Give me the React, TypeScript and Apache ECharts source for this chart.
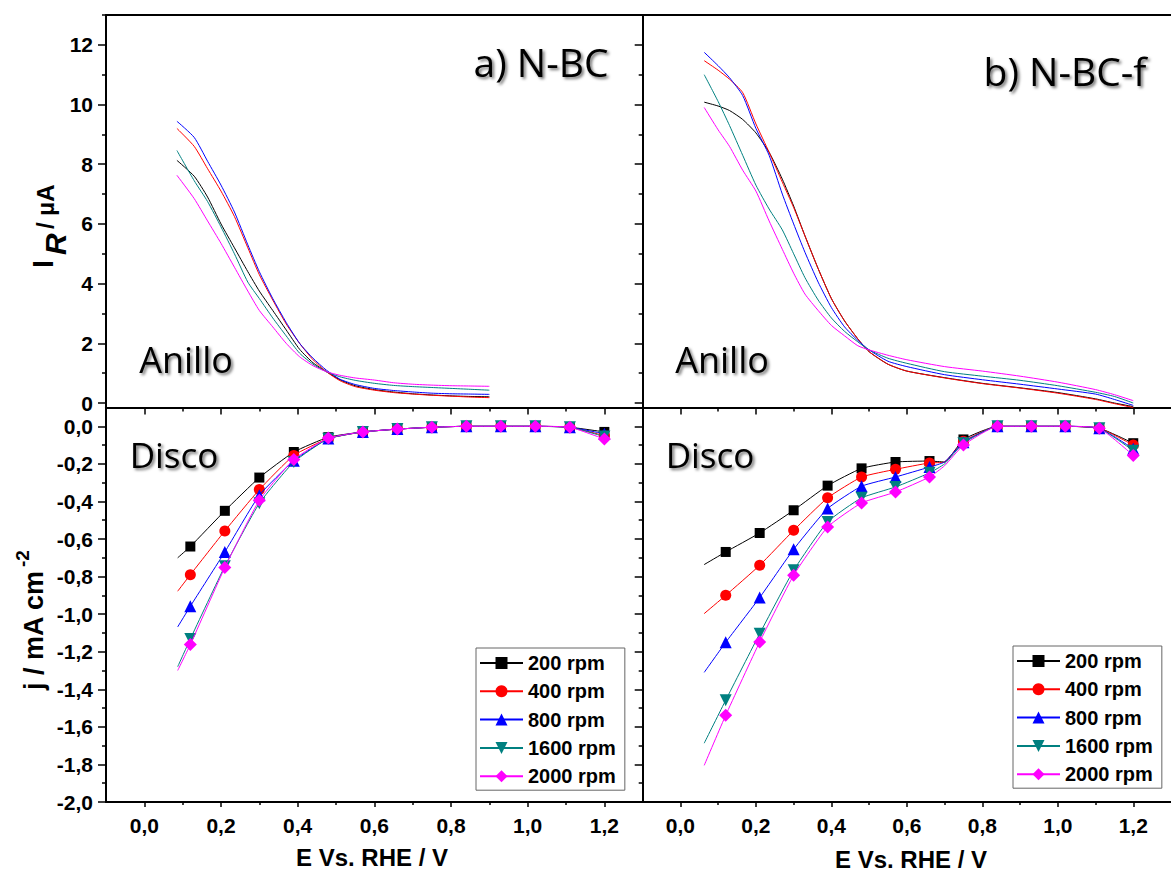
import React, { useEffect, useRef } from 'react';
import * as echarts from 'echarts';

// ---------- series meta ----------
const SERIES_NAMES = ['200 rpm', '400 rpm', '800 rpm', '1600 rpm', '2000 rpm'];
const COLORS = ['#000000', '#ff0000', '#0000ff', '#008080', '#ff00ff'];
const SYMBOLS = ['rect', 'circle', 'triangle', 'triangle', 'diamond'];
const SYMBOL_ROTATE = [0, 0, 0, 180, 0];
const SYMBOL_SIZES = [10, 11, 12, 12, 13];

// ---------- a) N-BC ring current (µA) ----------
const ringAX = [0.085, 0.13, 0.165, 0.2, 0.235, 0.27, 0.3, 0.335, 0.37, 0.405, 0.44, 0.475, 0.51, 0.55, 0.6, 0.65, 0.7, 0.75, 0.8, 0.85, 0.9];
const ringA200 = [8.13, 7.6, 6.9, 6.0, 5.2, 4.4, 3.75, 3.1, 2.45, 1.8, 1.35, 1.05, 0.78, 0.58, 0.45, 0.37, 0.31, 0.27, 0.24, 0.22, 0.21];
const ringA400 = [9.2, 8.6, 7.85, 7.1, 6.25, 5.2, 4.3, 3.45, 2.65, 2.0, 1.45, 1.05, 0.75, 0.55, 0.43, 0.35, 0.3, 0.26, 0.23, 0.2, 0.18];
const ringA800 = [9.44, 8.9, 8.1, 7.3, 6.4, 5.3, 4.4, 3.5, 2.7, 2.0, 1.5, 1.1, 0.8, 0.62, 0.49, 0.42, 0.37, 0.33, 0.31, 0.3, 0.29];
const ringA1600 = [8.46, 7.45, 6.75, 5.9, 5.0, 4.05, 3.5, 2.85, 2.25, 1.67, 1.3, 1.05, 0.88, 0.76, 0.66, 0.59, 0.55, 0.52, 0.49, 0.46, 0.43];
const ringA2000 = [7.63, 6.85, 6.1, 5.35, 4.55, 3.75, 3.1, 2.55, 2.0, 1.55, 1.25, 1.05, 0.93, 0.84, 0.77, 0.68, 0.63, 0.6, 0.58, 0.57, 0.56];

// ---------- b) N-BC-f ring current (µA) ----------
const ringBX = [0.063, 0.1, 0.13, 0.165, 0.2, 0.235, 0.27, 0.3, 0.33, 0.365, 0.4, 0.435, 0.47, 0.5, 0.55, 0.6, 0.7, 0.8, 0.9, 1.0, 1.1, 1.15, 1.2];
const ringB200 = [10.08, 9.95, 9.8, 9.5, 9.05, 8.4, 7.5, 6.6, 5.6, 4.5, 3.5, 2.75, 2.15, 1.72, 1.3, 1.07, 0.85, 0.66, 0.51, 0.35, 0.14, 0.0, -0.12];
const ringB400 = [11.47, 11.15, 10.85, 10.4, 9.35, 8.4, 7.4, 6.55, 5.6, 4.5, 3.5, 2.75, 2.15, 1.72, 1.3, 1.07, 0.84, 0.65, 0.5, 0.33, 0.12, -0.02, -0.15];
const ringB800 = [11.75, 11.3, 10.9, 10.3, 9.2, 8.3, 7.0, 6.0, 5.05, 4.05, 3.2, 2.55, 2.1, 1.78, 1.4, 1.22, 0.95, 0.78, 0.63, 0.47, 0.3, 0.12, -0.08];
const ringB1600 = [11.0, 10.1, 9.3, 8.3, 7.3, 6.5, 5.8, 5.0, 4.2, 3.45, 2.85, 2.4, 2.05, 1.78, 1.5, 1.33, 1.05, 0.9, 0.76, 0.58, 0.36, 0.22, 0.0];
const ringB2000 = [9.9, 9.15, 8.6, 7.8, 7.1, 6.1, 5.15, 4.35, 3.65, 3.1, 2.6, 2.25, 1.92, 1.78, 1.6, 1.45, 1.22, 1.07, 0.9, 0.7, 0.45, 0.28, 0.08];

// ---------- disk current density (mA cm-2) ----------
const diskMarkerX = [0.12, 0.21, 0.3, 0.39, 0.48, 0.57, 0.66, 0.75, 0.84, 0.93, 1.02, 1.11, 1.2];

const diskAX = [0.087, 0.12, 0.21, 0.3, 0.39, 0.48, 0.57, 0.66, 0.75, 0.84, 0.93, 1.02, 1.11, 1.2];
const diskA200 = [-0.7, -0.64, -0.45, -0.273, -0.137, -0.058, -0.03, -0.015, -0.005, 0, 0, 0, -0.005, -0.03];
const diskA400 = [-0.878, -0.79, -0.557, -0.337, -0.155, -0.065, -0.03, -0.015, -0.005, 0, 0, 0, -0.005, -0.05];
const diskA800 = [-1.068, -0.958, -0.669, -0.367, -0.183, -0.065, -0.03, -0.015, -0.005, 0, 0, 0, -0.005, -0.04];
const diskA1600 = [-1.28, -1.132, -0.745, -0.41, -0.19, -0.066, -0.03, -0.015, -0.005, 0, 0, 0, -0.005, -0.055];
const diskA2000 = [-1.3, -1.162, -0.752, -0.394, -0.177, -0.063, -0.03, -0.015, -0.005, 0, 0, 0, -0.005, -0.068];

const diskBX = [0.063, 0.12, 0.21, 0.3, 0.39, 0.48, 0.57, 0.66, 0.7, 0.75, 0.84, 0.93, 1.02, 1.11, 1.2];
const diskB200 = [-0.736, -0.669, -0.568, -0.447, -0.316, -0.224, -0.19, -0.185, -0.19, -0.07, 0, 0, 0, -0.01, -0.09];
const diskB400 = [-0.997, -0.9, -0.74, -0.554, -0.381, -0.27, -0.229, -0.195, -0.19, -0.08, 0, 0, 0, -0.01, -0.1];
const diskB800 = [-1.31, -1.15, -0.912, -0.655, -0.438, -0.319, -0.27, -0.217, -0.19, -0.085, 0, 0, 0, -0.01, -0.12];
const diskB1600 = [-1.687, -1.458, -1.104, -0.767, -0.509, -0.381, -0.323, -0.248, -0.2, -0.09, 0, 0, 0, -0.01, -0.13];
const diskB2000 = [-1.805, -1.538, -1.148, -0.793, -0.536, -0.408, -0.35, -0.27, -0.21, -0.1, 0, 0, 0, -0.01, -0.155];

// ---------- ticks ----------
const xMajorTicks = [0, 0.2, 0.4, 0.6, 0.8, 1.0, 1.2];
const xMinorTicks = [0.1, 0.3, 0.5, 0.7, 0.9, 1.1];
const ringMajorTicks = [0, 2, 4, 6, 8, 10, 12];
const ringMinorTicks = [1, 3, 5, 7, 9, 11, 13];
const diskMajorTicks = [-2.0, -1.8, -1.6, -1.4, -1.2, -1.0, -0.8, -0.6, -0.4, -0.2, 0.0];
const diskMinorTicks = [-1.9, -1.7, -1.5, -1.3, -1.1, -0.9, -0.7, -0.5, -0.3, -0.1];

const ringA = [ringA200, ringA400, ringA800, ringA1600, ringA2000];
const ringB = [ringB200, ringB400, ringB800, ringB1600, ringB2000];
const diskA = [diskA200, diskA400, diskA800, diskA1600, diskA2000];
const diskB = [diskB200, diskB400, diskB800, diskB1600, diskB2000];

const FONT = 'Liberation Sans, Arial, sans-serif';
const fmtComma = (v: number) => v.toFixed(1).replace('.', ',');

function buildOption() {
  const gridsDef = [
    { left: 106, top: 15, width: 536.7, height: 392.5 },
    { left: 642.7, top: 15, width: 536.7, height: 392.5 },
    { left: 106, top: 407.5, width: 536.7, height: 394.5 },
    { left: 642.7, top: 407.5, width: 536.7, height: 394.5 },
  ];
  const xAxes: any[] = [];
  const yAxes: any[] = [];
  const xIdx: number[] = [];
  const yIdx: number[] = [];
  for (let g = 0; g < 4; g++) {
    const isTop = g < 2;
    const isLeft = g % 2 === 0;
    xIdx[g] = xAxes.length;
    xAxes.push({
      type: 'value', gridIndex: g, position: 'bottom', min: -0.1, max: 1.3,
      axisLine: { show: true, onZero: false, lineStyle: { color: '#000', width: 2 } },
      axisTick: { show: true, inside: false, length: isTop ? 7 : 5, customValues: xMajorTicks, lineStyle: { color: '#000', width: 1.5 } },
      axisLabel: isTop ? { show: false } : {
        show: true, customValues: xMajorTicks, formatter: fmtComma, margin: 13,
        color: '#000', fontSize: 21, fontWeight: 'bold', fontFamily: FONT,
      },
      splitLine: { show: false },
    });
    xAxes.push({
      type: 'value', gridIndex: g, position: 'bottom', min: -0.1, max: 1.3,
      axisLine: { show: false, onZero: false },
      axisTick: { show: true, inside: false, length: isTop ? 4 : 3, customValues: xMinorTicks, lineStyle: { color: '#000', width: 1.5 } },
      axisLabel: { show: false },
      splitLine: { show: false },
    });
    if (isTop) {
      xAxes.push({
        type: 'value', gridIndex: g, position: 'top', min: -0.1, max: 1.3,
        axisLine: { show: true, onZero: false, lineStyle: { color: '#000', width: 2 } },
        axisTick: { show: false }, axisLabel: { show: false }, splitLine: { show: false },
      });
    }
    yIdx[g] = yAxes.length;
    const yMin = isTop ? -0.15 : -2.0;
    const yMax = isTop ? 13 : 0.1;
    yAxes.push({
      type: 'value', gridIndex: g, position: 'left', min: yMin, max: yMax,
      axisLine: { show: true, onZero: false, lineStyle: { color: '#000', width: 2 } },
      axisTick: { show: true, inside: false, length: 8, customValues: isTop ? ringMajorTicks : diskMajorTicks, lineStyle: { color: '#000', width: 1.5 } },
      axisLabel: isLeft ? {
        show: true, customValues: isTop ? ringMajorTicks : diskMajorTicks,
        formatter: isTop ? (v: number) => String(v) : fmtComma, margin: 13,
        color: '#000', fontSize: 21, fontWeight: 'bold', fontFamily: FONT,
      } : { show: false },
      splitLine: { show: false },
    });
    yAxes.push({
      type: 'value', gridIndex: g, position: 'left', min: yMin, max: yMax,
      axisLine: { show: false, onZero: false },
      axisTick: { show: true, inside: false, length: 4, customValues: isTop ? ringMinorTicks : diskMinorTicks, lineStyle: { color: '#000', width: 1.5 } },
      axisLabel: { show: false }, splitLine: { show: false },
    });
  }

  const series: any[] = [];
  // disk series first (legend takes icon from them)
  const diskPanels = [
    { g: 2, x: diskAX, ys: diskA },
    { g: 3, x: diskBX, ys: diskB },
  ];
  diskPanels.forEach((p) => {
    p.ys.forEach((ys, i) => {
      series.push({
        type: 'line', name: SERIES_NAMES[i], xAxisIndex: xIdx[p.g], yAxisIndex: yIdx[p.g],
        symbol: SYMBOLS[i], symbolRotate: SYMBOL_ROTATE[i], symbolSize: SYMBOL_SIZES[i],
        showSymbol: true, showAllSymbol: true,
        smooth: 0.15,
        lineStyle: { color: COLORS[i], width: 1 },
        itemStyle: { color: COLORS[i] },
        data: p.x.map((x, k) => (diskMarkerX.includes(x) ? [x, ys[k]] : { value: [x, ys[k]], symbol: 'none' })),
        z: 3 + i,
      });
    });
  });
  const ringPanels = [
    { g: 0, x: ringAX, ys: ringA, tag: 'a' },
    { g: 1, x: ringBX, ys: ringB, tag: 'b' },
  ];
  ringPanels.forEach((p) => {
    p.ys.forEach((ys, i) => {
      series.push({
        type: 'line', name: 'Anillo ' + p.tag + ' ' + SERIES_NAMES[i], xAxisIndex: xIdx[p.g], yAxisIndex: yIdx[p.g],
        symbol: 'none', showSymbol: false, smooth: 0.2,
        lineStyle: { color: COLORS[i], width: 1 },
        itemStyle: { color: COLORS[i] },
        data: p.x.map((x, k) => [x, ys[k]]),
        z: 3 + i,
      });
    });
  });

  const legendCommon = {
    orient: 'vertical', data: SERIES_NAMES, itemWidth: 43, itemHeight: 15, itemGap: 8.3,
    padding: [5, 9, 4, 3], borderColor: '#666', borderWidth: 1, backgroundColor: '#fff',
    textStyle: { color: '#000', fontSize: 20, fontWeight: 'bold', fontFamily: FONT },
    selectedMode: false,
  };

  const shadow = {
    shadowColor: 'rgba(0,0,0,0.55)', shadowBlur: 3, shadowOffsetX: 2, shadowOffsetY: 2,
    textShadowColor: 'rgba(0,0,0,0.55)', textShadowBlur: 3, textShadowOffsetX: 2, textShadowOffsetY: 2,
  };
  const panelText = (text: string, x: number, y: number, size: number) => ({
    type: 'text', x, y, z: 100,
    style: { text, fill: '#000', font: `${size}px "Open Sans"`, textAlign: 'center', textVerticalAlign: 'middle', ...shadow },
  });
  const rotText = (text: string, x: number, y: number, font: string) => ({
    type: 'text', x, y, rotation: Math.PI / 2, z: 100,
    style: { text, fill: '#000', font, textAlign: 'left', textVerticalAlign: 'middle' },
  });

  return {
    animation: false,
    backgroundColor: '#fff',
    grid: gridsDef.map((d) => ({ ...d, containLabel: false, show: false })),
    xAxis: xAxes,
    yAxis: yAxes,
    legend: [
      { ...legendCommon, left: 476, top: 648 },
      { ...legendCommon, left: 1013, top: 646 },
    ],
    series,
    graphic: [
      panelText('a) N-BC', 541, 61, 39),
      panelText('b) N-BC-f', 1065, 70, 39),
      panelText('Anillo', 186, 359, 36),
      panelText('Anillo', 722, 359, 36),
      panelText('Disco', 174, 454, 35),
      panelText('Disco', 710, 454, 35),
      rotText('I', 43, 268, `bold 29px ${FONT}`),
      rotText('R', 55, 255, `italic bold 30px ${FONT}`),
      rotText('/ µA', 45, 229, `bold 24px ${FONT}`),
      rotText('j / mA cm', 34, 690, `bold 27px ${FONT}`),
      rotText('-2', 22, 567, `bold 19px ${FONT}`),
      {
        type: 'text', x: 372, y: 857, z: 100,
        style: { text: 'E Vs. RHE / V', fill: '#000', font: `bold 24px ${FONT}`, textAlign: 'center', textVerticalAlign: 'middle' },
      },
      {
        type: 'text', x: 911, y: 859, z: 100,
        style: { text: 'E Vs. RHE / V', fill: '#000', font: `bold 24px ${FONT}`, textAlign: 'center', textVerticalAlign: 'middle' },
      },
    ],
  };
}

export default function App() {
  const ref = useRef<HTMLDivElement>(null);
  useEffect(() => {
    if (!ref.current) return;
    const chart = echarts.init(ref.current, undefined, { renderer: 'svg' });
    chart.setOption(buildOption() as any);
    return () => chart.dispose();
  }, []);
  return (
    <div
      ref={ref}
      style={{ position: 'fixed', left: 0, top: 0, width: 1171, height: 873, background: '#fff' }}
    />
  );
}
